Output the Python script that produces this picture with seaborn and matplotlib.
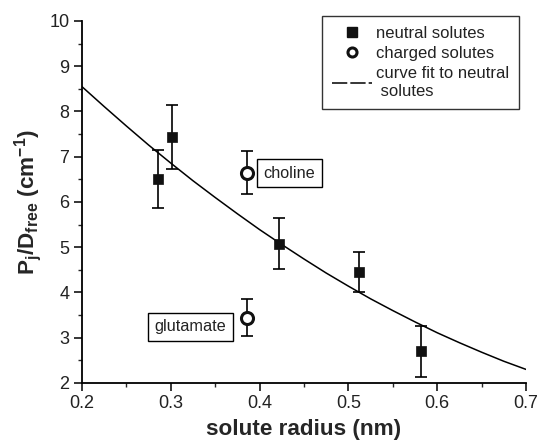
import matplotlib
matplotlib.use("Agg")
import matplotlib.pyplot as plt
from matplotlib.lines import Line2D
from matplotlib.ticker import MultipleLocator
import seaborn as sns

# Neutral solutes: radius (nm), P/D_free (cm^-1), standard error
neutral_r = [0.286, 0.301, 0.422, 0.512, 0.582]
neutral_p = [6.50, 7.44, 5.08, 4.45, 2.70]
neutral_err = [0.64, 0.70, 0.56, 0.44, 0.56]

# Charged solutes
charged_names = ["choline", "glutamate"]
charged_r = [0.386, 0.386]
charged_p = [6.65, 3.44]
charged_err = [0.47, 0.41]

# Fitted curve through the neutral solutes
fit_r = [0.200, 0.225, 0.250, 0.275, 0.300, 0.325, 0.350, 0.375, 0.400, 0.425, 0.450,
         0.475, 0.500, 0.525, 0.550, 0.575, 0.600, 0.625, 0.650, 0.675, 0.700]
fit_p = [8.55, 8.11, 7.68, 7.26, 6.86, 6.47, 6.10, 5.74, 5.39, 5.06, 4.74,
         4.43, 4.14, 3.86, 3.60, 3.35, 3.11, 2.89, 2.68, 2.48, 2.30]

sns.set_theme(style="ticks")
plt.rcParams["font.family"] = ["Liberation Sans", "DejaVu Sans"]
plt.rcParams["mathtext.default"] = "regular"

fig = plt.figure(figsize=(5.39, 4.42), dpi=100)
ax = fig.add_axes([0.152, 0.1335, 0.824, 0.819])

sns.lineplot(x=fit_r, y=fit_p, ax=ax, color="black", lw=1.1, zorder=2)

ax.errorbar(neutral_r, neutral_p, yerr=neutral_err, fmt="none", ecolor="black",
            elinewidth=1.2, capsize=4.3, capthick=1.2, zorder=3)
ax.errorbar(charged_r, charged_p, yerr=charged_err, fmt="none", ecolor="black",
            elinewidth=1.2, capsize=4.3, capthick=1.2, zorder=3)

sns.scatterplot(x=neutral_r, y=neutral_p, ax=ax, marker="s", s=60,
                color="#111111", edgecolor="#111111", linewidth=0.5, zorder=4)
sns.scatterplot(x=charged_r, y=charged_p, ax=ax, marker="o", s=75,
                facecolor="white", edgecolor="#111111", linewidth=2.2, zorder=4)

# Labels for the charged solutes
label_pos = {"choline": (0.4337, 6.64), "glutamate": (0.3225, 3.24)}
for name in charged_names:
    x, y = label_pos[name]
    ax.text(x, y, name, ha="center", va="center", fontsize=11.7, color="#222222",
            bbox=dict(boxstyle="square,pad=0.42", fc="white", ec="black", lw=1.0))

ax.set_xlim(0.2, 0.7)
ax.set_ylim(2, 10)
ax.xaxis.set_major_locator(MultipleLocator(0.1))
ax.xaxis.set_minor_locator(MultipleLocator(0.05))
ax.yaxis.set_major_locator(MultipleLocator(1))
ax.yaxis.set_minor_locator(MultipleLocator(0.5))
ax.set_xticks([0.2, 0.3, 0.4, 0.5, 0.6, 0.7])
ax.set_xticklabels(["0.2", "0.3", "0.4", "0.5", "0.6", "0.7"])

ax.tick_params(axis="both", which="major", direction="out", length=5.5, width=1.1,
               labelsize=13, colors="black", labelcolor="#222222", pad=3.5)
ax.tick_params(axis="both", which="minor", direction="out", length=3.2, width=1.0)
for side in ("left", "bottom"):
    ax.spines[side].set_linewidth(1.3)
    ax.spines[side].set_color("black")
sns.despine(ax=ax)

ax.set_xlabel("solute radius (nm)", fontsize=16.2, fontweight="bold", labelpad=4.5)
ax.set_ylabel("P$_j$/D$_{free}$ (cm$^{-1}$)", fontsize=16.2, fontweight="bold", labelpad=4)

handles = [
    Line2D([], [], ls="none", marker="s", ms=7, color="#111111"),
    Line2D([], [], ls="none", marker="o", ms=6.5, mfc="white", mec="#111111", mew=2.2),
    Line2D([], [], color="black", lw=1.1, dashes=(10, 2)),
]
labels = ["neutral solutes", "charged solutes", "curve fit to neutral\n solutes"]
leg = ax.legend(handles, labels, loc="upper right", bbox_to_anchor=(0.984, 1.015),
                fontsize=12, frameon=True, fancybox=False, handlelength=2.4,
                handletextpad=0.2, labelspacing=0.32, borderpad=0.6,
                borderaxespad=0.0)
leg.get_frame().set_edgecolor("black")
leg.get_frame().set_linewidth(1.0)
for t in leg.get_texts():
    t.set_color("#222222")

fig.savefig("out.png", dpi=100)
